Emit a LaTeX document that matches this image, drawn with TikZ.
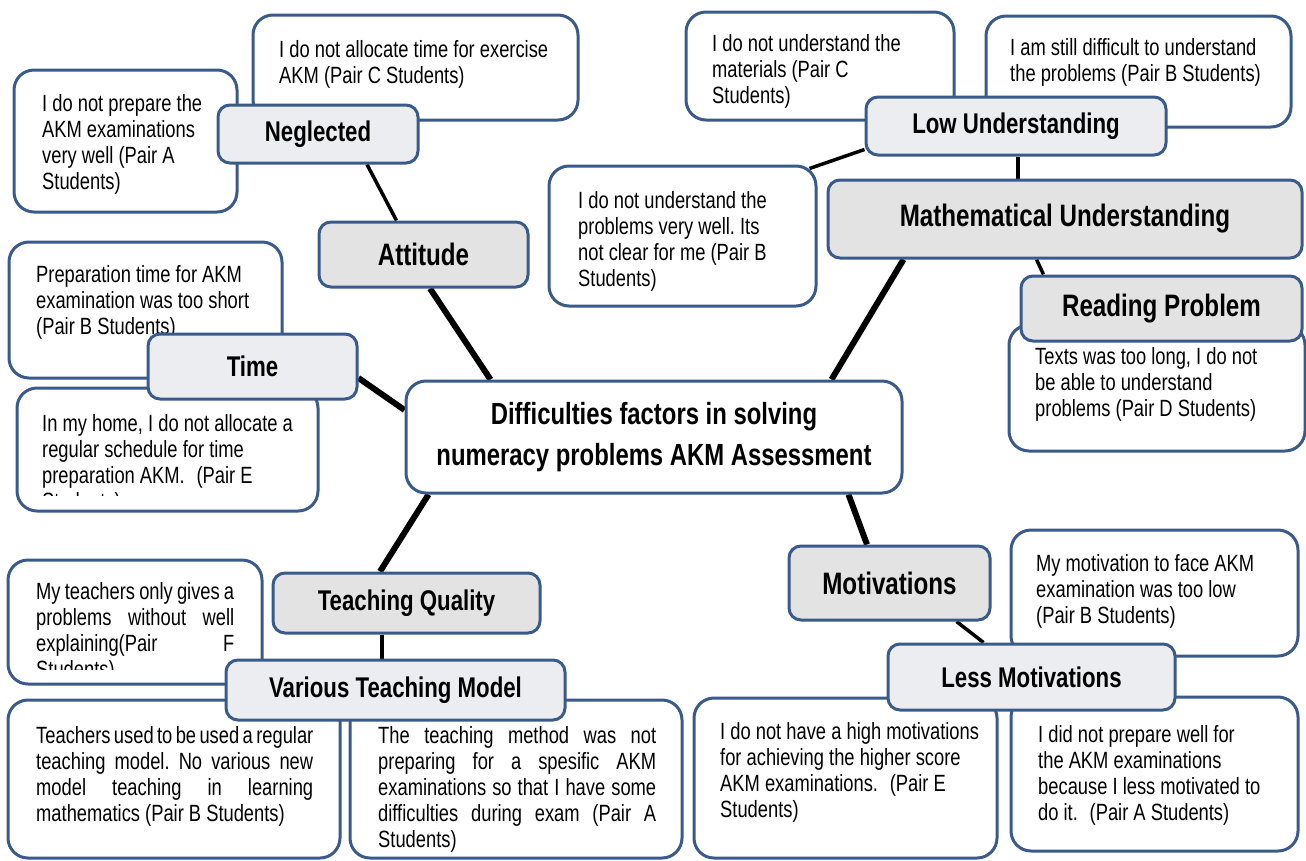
\documentclass[tikz,border=0pt]{standalone}
\usepackage{fontspec}
\setmainfont{Liberation Sans}[FakeStretch=0.78]
\usetikzlibrary{fit,backgrounds}
\definecolor{bord}{HTML}{3A5A8C}
\definecolor{labA}{HTML}{E3E3E3}
\definecolor{labB}{HTML}{ECEDF1}
\newcommand{\justline}[2]{\makebox[#1][s]{#2}}
\frenchspacing
\begin{document}
\begin{tikzpicture}[x=1pt,y=-1pt,
  cbox/.style={draw=bord, line width=3pt, rounded corners=20pt, fill=white, inner sep=0pt},
  ctext/.style={inner sep=0pt, anchor=base west, font=\fontsize{23.5}{26.2}\selectfont},
  lab/.style={draw=bord, line width=3pt, rounded corners=12pt, inner sep=0pt, font=\bfseries\fontsize{28.5}{32}\selectfont},
  labbig/.style={lab, font=\bfseries\fontsize{31}{34}\selectfont},
  mainbox/.style={draw=bord, line width=3pt, rounded corners=20pt, fill=white, inner sep=0pt, align=center, font=\bfseries\fontsize{30.6}{41}\selectfont},
  thickline/.style={line width=6pt, black},
  thinline/.style={line width=3.5pt, black}]
\useasboundingbox (0,0) rectangle (1306,860);

% ---------- comment boxes ----------
\node[cbox, fit={(253,15) (578,120)}] (c1) {};
\node[ctext] (t1) at (279,57) {\parbox[t]{300pt}{\raggedright I do not allocate time for exercise\\AKM (Pair C Students)}};

\node[cbox, fit={(14,70) (237,212)}] (c2) {};
\node[ctext] (t2) at (42,111) {\parbox[t]{200pt}{\raggedright I do not prepare the\\AKM examinations\\very well (Pair A\\Students)}};

\node[cbox, fit={(9,242) (282,378)}] (c3) {};
\node[ctext] (t3) at (36,282) {\parbox[t]{250pt}{\raggedright Preparation time for AKM\\examination was too short\\(Pair B Students)}};

\node[cbox, fit={(17,388) (318,511)}] (c4) {};
\begin{scope}
\clip (17,388) rectangle (318,495);
\node[ctext] (t4) at (42,431) {\parbox[t]{280pt}{\raggedright In my home, I do not allocate a\\regular schedule for time\\preparation AKM.\enspace(Pair E\\Students)}};
\end{scope}

\node[cbox, fit={(686,12) (954,120)}] (c5) {};
\node[ctext] (t5) at (712,51) {\parbox[t]{240pt}{\raggedright I do not understand the\\materials (Pair C\\Students)}};

\node[cbox, fit={(986,16) (1291,127)}] (c6) {};
\node[ctext] (t6) at (1010,55) {\parbox[t]{280pt}{\raggedright I am still difficult to understand\\the problems (Pair B Students)}};

\node[cbox, fit={(549,166) (816,306)}] (c7) {};
\node[ctext] (t7) at (578,208) {\parbox[t]{240pt}{\raggedright I do not understand the\\problems very well. Its\\not clear for me (Pair B\\Students)}};

\node[cbox, fit={(1009,325) (1305,451)}] (c8) {};
\node[ctext] (t8) at (1035,364) {\parbox[t]{260pt}{\raggedright Texts was too long, I do not\\be able to understand\\problems (Pair D Students)}};

\node[cbox, fit={(1011,530) (1298,656)}] (c9) {};
\node[ctext] (t9) at (1036,571) {\parbox[t]{260pt}{\raggedright My motivation to face AKM\\examination was too low\\(Pair B Students)}};

\node[cbox, fit={(694,698) (997,858)}] (c10) {};
\node[ctext] (t10) at (720,739) {\parbox[t]{280pt}{\raggedright I do not have a high motivations\\for achieving the higher score\\AKM examinations.\enspace(Pair E\\Students)}};

\node[cbox, fit={(1011,697) (1298,851)}] (c11) {};
\node[ctext] (t11) at (1038,742) {\parbox[t]{260pt}{\raggedright I did not prepare well for\\the AKM examinations\\because I less motivated to\\do it.\enspace(Pair A Students)}};

\node[cbox, fit={(8,560) (262,684)}] (c12) {};
\begin{scope}
\clip (8,560) rectangle (262,669);
\node[ctext] (t12) at (36,599) {\parbox[t]{198pt}{\justline{198pt}{My teachers only gives a}\\\justline{198pt}{problems without well}\\\justline{198pt}{explaining(Pair F}\\Students)}};
\end{scope}

\node[cbox, fit={(8,700) (340,858)}] (c13) {};
\node[ctext] (t13) at (36,743) {\parbox[t]{277pt}{\justline{277pt}{Teachers used to be used a regular}\\\justline{277pt}{teaching model. No various new}\\\justline{277pt}{model teaching in learning}\\mathematics (Pair B Students)}};

\node[cbox, fit={(350,700) (682,858)}] (c14) {};
\node[ctext] (t14) at (378,743) {\parbox[t]{278pt}{\justline{278pt}{The teaching method was not}\\\justline{278pt}{preparing for a spesific AKM}\\\justline{278pt}{examinations so that I have some}\\\justline{278pt}{difficulties during exam (Pair A}\\Students)}};

% ---------- central node ----------
\node[mainbox, minimum width=496pt, minimum height=112pt] (ctr) at (654,437) {Difficulties factors in solving\\numeracy problems AKM Assessment};

% ---------- labels ----------
\node[lab, fill=labB, minimum width=200pt, minimum height=58pt] (neg) at (318,134) {Neglected};
\node[labbig, fill=labA, minimum width=209pt, minimum height=65pt] (att) at (423.5,254.5) {Attitude};
\node[lab, fill=labB, minimum width=209pt, minimum height=65pt] (time) at (252.5,366.5) {Time};
\node[lab, fill=labB, minimum width=300pt, minimum height=58pt] (low) at (1016,126) {Low Understanding};
\node[labbig, fill=labA, minimum width=474pt, minimum height=78pt] (math) at (1065,219) {Mathematical Understanding};
\node[labbig, fill=labA, minimum width=281pt, minimum height=65pt] (rp) at (1161.5,308.5) {Reading Problem};
\node[labbig, fill=labA, minimum width=201pt, minimum height=74pt] (mot) at (889.5,583) {Motivations};
\node[lab, fill=labB, minimum width=287pt, minimum height=66pt] (lmot) at (1031.5,677) {Less Motivations};
\node[lab, fill=labA, minimum width=267pt, minimum height=60pt] (tq) at (406.5,603) {Teaching Quality};
\node[lab, fill=labB, minimum width=339pt, minimum height=60pt] (vtm) at (395.5,690) {Various Teaching Model};

% ---------- connectors ----------
\begin{scope}[on background layer]
\fill[white] (0,0) rectangle (1306,860);
\draw[thickline] ([xshift=6.5pt]att.south) -- ([xshift=86pt]ctr.north west);
\draw[thinline] ([xshift=49pt]neg.south) -- ([xshift=79pt]att.north west);
\draw[thickline] ([yshift=-11.5pt]time.east) -- ([yshift=27pt]ctr.west);
\draw[thickline] ([xshift=24pt]ctr.south west) -- ([xshift=-26.5pt]tq.north);
\draw[thinline] ([xshift=-24.5pt]tq.south) -- ([xshift=-13.5pt]vtm.north);
\draw[thickline] ([xshift=-55pt]ctr.south east) -- ([xshift=-22.5pt]mot.north);
\draw[thinline] ([xshift=-35pt]mot.south east) -- ([xshift=97pt]lmot.north west);
\draw[thickline] ([xshift=-72pt]ctr.north east) -- ([xshift=77pt]math.south west);
\draw[thinline] ([xshift=-47pt]math.north) -- ([xshift=2pt]low.south);
\draw[thinline] ([xshift=210pt]math.south west) -- ([xshift=24pt]rp.north west);
\draw[thinline] ([yshift=7pt]low.south west) -- ([shift={(-8pt,-4pt)}]c7.north east);
\end{scope}
\end{tikzpicture}
\end{document}
